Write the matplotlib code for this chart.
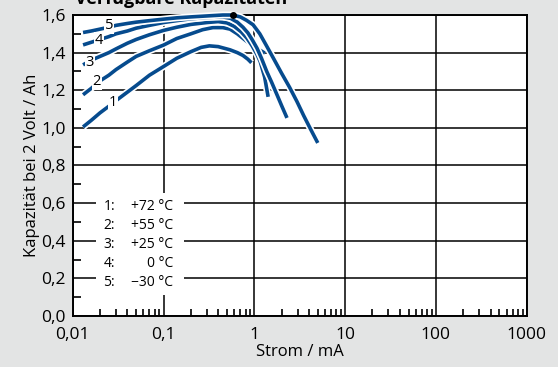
import numpy as np
import matplotlib.pyplot as plt
import matplotlib.patheffects as pe
from matplotlib.ticker import FixedLocator, NullFormatter

plt.rcParams['font.family'] = ['Open Sans', 'DejaVu Sans']

# Strom / mA und Kapazität / Ah
strom_1 = [0.013, 0.016, 0.02, 0.025, 0.03, 0.04, 0.05, 0.07, 0.1, 0.14, 0.2,
           0.26, 0.32, 0.4, 0.54, 0.65, 0.75, 0.85, 0.93]
kap_1 = [1.005, 1.04, 1.08, 1.115, 1.145, 1.19, 1.225, 1.28, 1.326, 1.37, 1.405,
         1.428, 1.436, 1.432, 1.415, 1.40, 1.385, 1.365, 1.346]

strom_2 = [0.013, 0.016, 0.02, 0.025, 0.03, 0.04, 0.05, 0.07, 0.1, 0.14, 0.2,
           0.27, 0.35, 0.45, 0.54, 0.65, 0.83, 1.05, 1.31]
kap_2 = [1.176, 1.21, 1.25, 1.28, 1.31, 1.35, 1.38, 1.41, 1.44, 1.475, 1.50,
         1.522, 1.533, 1.533, 1.525, 1.50, 1.459, 1.425, 1.397]

strom_3 = [0.013, 0.016, 0.02, 0.025, 0.03, 0.04, 0.05, 0.07, 0.1, 0.14, 0.2,
           0.3, 0.4, 0.5, 0.6, 0.72, 0.83, 0.95, 1.07, 1.16, 1.3, 1.42]
kap_3 = [1.335, 1.36, 1.38, 1.40, 1.42, 1.45, 1.47, 1.495, 1.518, 1.535, 1.55,
         1.56, 1.565, 1.558, 1.54, 1.51, 1.477, 1.435, 1.39, 1.353, 1.27, 1.165]

strom_4 = [0.013, 0.016, 0.02, 0.025, 0.03, 0.04, 0.05, 0.07, 0.1, 0.14, 0.2,
           0.3, 0.45, 0.55, 0.65, 0.75, 0.85, 0.95, 1.07, 1.2, 1.37, 1.55, 1.8,
           2.0, 2.29]
kap_4 = [1.441, 1.455, 1.47, 1.485, 1.50, 1.515, 1.53, 1.545, 1.56, 1.57, 1.58,
         1.587, 1.59, 1.582, 1.562, 1.535, 1.505, 1.468, 1.424, 1.37, 1.30, 1.243, 1.17,
         1.118, 1.053]

strom_5 = [0.013, 0.016, 0.02, 0.025, 0.03, 0.04, 0.05, 0.07, 0.1, 0.14, 0.2,
           0.3, 0.45, 0.58, 0.7, 0.82, 0.97, 1.15, 1.35, 1.62, 2.0, 2.45, 2.95,
           3.5, 4.2, 5.0]
kap_5 = [1.507, 1.515, 1.525, 1.535, 1.545, 1.555, 1.562, 1.57, 1.578, 1.585, 1.59,
         1.595, 1.60, 1.60, 1.59, 1.572, 1.548, 1.50, 1.44, 1.371, 1.29, 1.215, 1.14,
         1.065, 0.99, 0.92]

kurven = [(strom_1, kap_1), (strom_2, kap_2), (strom_3, kap_3),
          (strom_4, kap_4), (strom_5, kap_5)]

kurven_nr = ['1', '2', '3', '4', '5']
temperaturen = ['+72 °C', '+55 °C', '+25 °C', '0 °C', '\u221230 °C']

y_ticks = [0.0, 0.2, 0.4, 0.6, 0.8, 1.0, 1.2, 1.4, 1.6]
x_ticks = [0.01, 0.1, 1, 10, 100, 1000]
x_labels = ['0,01', '0,1', '1', '10', '100', '1000']

blau = '#064b8e'
grau = '#e3e4e4'

fig = plt.figure(figsize=(5.58, 3.67), dpi=100, facecolor=grau)
ax = fig.add_axes([0.1303, 0.139, 0.8136, 0.8201])
ax.set_xscale('log')
ax.set_xlim(0.01, 1000)
ax.set_ylim(0, 1.6)

# Gitter
ax.grid(True, which='major', color='black', linewidth=1.1, zorder=1)
ax.set_axisbelow(True)
for s in ax.spines.values():
    s.set_linewidth(1.4)

ax.yaxis.set_major_locator(FixedLocator(y_ticks))
ax.yaxis.set_minor_locator(FixedLocator([v + 0.1 for v in y_ticks[:-1]]))
ax.set_yticklabels([('%.1f' % v).replace('.', ',') for v in y_ticks])
ax.xaxis.set_major_locator(FixedLocator(x_ticks))
minor = [d * m for d in [0.01, 0.1, 1, 10, 100] for m in range(2, 10)]
ax.xaxis.set_minor_locator(FixedLocator(minor))
ax.xaxis.set_minor_formatter(NullFormatter())
ax.set_xticklabels(x_labels)

ax.tick_params(which='major', direction='in', length=0, labelsize=12.5, pad=5)
ax.tick_params(axis='x', which='major', pad=8)
ax.tick_params(which='minor', direction='in', length=6, width=1.2, color='black')
ax.tick_params(axis='x', which='minor', length=5)
ax.tick_params(right=False, top=False, which='both')

ax.set_xlabel('Strom / mA', fontsize=12, labelpad=1)
ax.set_ylabel('Kapazität bei 2 Volt / Ah', fontsize=12, labelpad=1)

# Kurven mit weißem Rand
for i, (x, y) in enumerate(kurven):
    ax.plot(x, y, color=blau, linewidth=2.6, solid_capstyle='butt',
            solid_joinstyle='round', zorder=3 + i, clip_on=False,
            path_effects=[pe.Stroke(linewidth=5.0, foreground='white'), pe.Normal()])

ax.plot([0.58], [1.6], 'o', color='black', markersize=4, zorder=10, clip_on=False)

# Kurvennummern
label_pos = [(0.0276, 1.133), (0.0184, 1.246), (0.0155, 1.346), (0.0195, 1.464), (0.0251, 1.544)]
for nr, (lx, ly) in zip(kurven_nr, label_pos):
    ax.text(lx, ly, nr, fontsize=10.5, ha='center', va='center', zorder=12,
            bbox=dict(facecolor='white', edgecolor='none', pad=0.6))

# Legende
ax.fill_between([0.0181, 0.168], 0.112, 0.654, color='white', zorder=2, linewidth=0)
for i, (nr, t) in enumerate(zip(kurven_nr, temperaturen)):
    yy = 0.583 - i * 0.101
    ax.text(0.0218, yy, nr + ':', fontsize=10, ha='left', va='center', zorder=12)
    ax.text(0.128, yy, t, fontsize=10, ha='right', va='center', zorder=12)

fig.text(0.135, 1 - 4 / 367, 'Verfügbare Kapazitäten', fontsize=13, fontweight='bold',
         ha='left', va='baseline')

fig.savefig('out.png', dpi=100, facecolor=grau)
